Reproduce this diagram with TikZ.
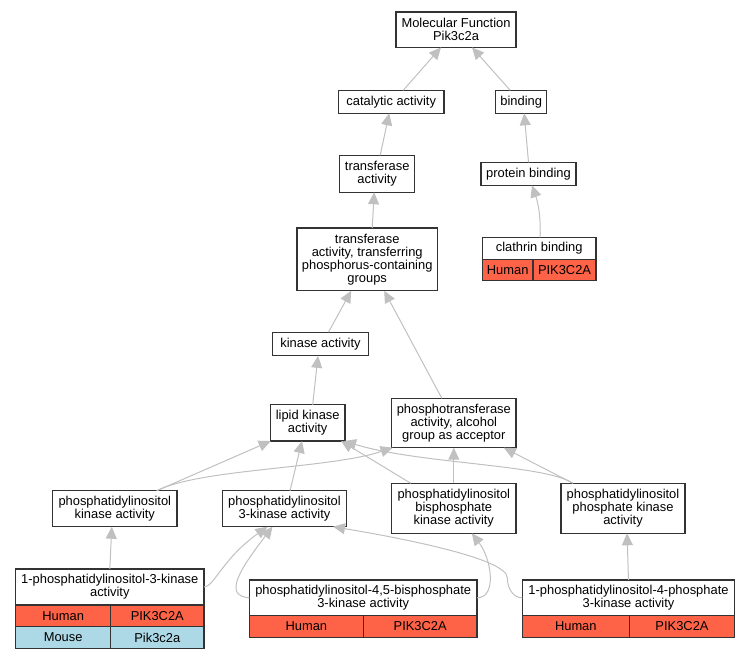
\documentclass[tikz,border=0pt]{standalone}
\usepackage{fontspec}
\setmainfont{Liberation Sans}
\usetikzlibrary{arrows.meta,positioning}
\definecolor{human}{HTML}{FF6347}
\definecolor{mouse}{HTML}{ADD8E6}
\definecolor{linkgray}{HTML}{C0C0C0}

\begin{document}
\begin{tikzpicture}[x=1pt,y=1pt,
  every node/.style={font=\fontsize{12.9}{13}\selectfont},
  term/.style={draw=black!80,line width=1.2pt,rectangle,align=center,inner sep=0pt,outer sep=0pt},
  hcell/.style={term,fill=human,minimum height=21.6pt},
  mcell/.style={term,fill=mouse,minimum height=21.6pt},
  link/.style={draw=linkgray,line width=1pt,-{Triangle[length=12pt,width=11pt]}}]
  \useasboundingbox (0,0) rectangle (751,659);

  \node[term,minimum width=120pt,minimum height=35.4pt]   (MF)  at (456,629.3)   {Molecular Function\\Pik3c2a};
  \node[term,minimum width=105.7pt,minimum height=23pt]   (CA)  at (391.2,557.2) {catalytic activity};
  \node[term,minimum width=51pt,minimum height=23pt]      (BI)  at (521.2,557.2) {binding};
  \node[term,minimum width=75pt,minimum height=37pt]      (TA)  at (377.2,485.2) {transferase\\activity};
  \node[term,minimum width=95pt,minimum height=23pt]      (PB)  at (528.5,485.2) {protein binding};
  \node[term,minimum width=140.3pt,minimum height=62.7pt] (TT)  at (367.2,399.6) {transferase\\activity, transferring\\phosphorus-containing\\groups};
  \node[term,minimum width=113.7pt,minimum height=22pt]   (CB)  at (539.2,410.7) {clathrin binding};
  \node[term,minimum width=95.6pt,minimum height=23.7pt]  (KA)  at (320.5,315)   {kinase activity};
  \node[term,minimum width=74.7pt,minimum height=36.3pt]  (LK)  at (307.7,236.1) {lipid kinase\\activity};
  \node[term,minimum width=124.3pt,minimum height=49.4pt] (PT)  at (453.8,236)   {phosphotransferase\\activity, alcohol\\group as acceptor};
  \node[term,minimum width=124.3pt,minimum height=36pt]   (PK)  at (114.8,150.3) {phosphatidylinositol\\kinase activity};
  \node[term,minimum width=124.4pt,minimum height=36pt]   (P3)  at (284.5,150.3) {phosphatidylinositol\\3-kinase activity};
  \node[term,minimum width=124.3pt,minimum height=50pt]   (PBK) at (453.8,150.7) {phosphatidylinositol\\bisphosphate\\kinase activity};
  \node[term,minimum width=124pt,minimum height=50pt]     (PPK) at (623,150.7)   {phosphatidylinositol\\phosphate kinase\\activity};
  \node[term,minimum width=188.3pt,minimum height=36pt]   (P3K) at (109.8,72)    {1-phosphatidylinositol-3-kinase\\activity};
  \node[term,minimum width=227.7pt,minimum height=35.7pt] (P45) at (363.2,61.2)  {phosphatidylinositol-4,5-bisphosphate\\3-kinase activity};
  \node[term,minimum width=212.4pt,minimum height=35.7pt] (P4P) at (628.5,61.2)  {1-phosphatidylinositol-4-phosphate\\3-kinase activity};

  \node[hcell,minimum width=50.7pt,anchor=north west] (CBh)  at (CB.south west)  {Human};
  \node[hcell,minimum width=63pt,right=0pt of CBh]    (CBg)                      {PIK3C2A};
  \node[hcell,minimum width=95pt,anchor=north west]   (P3Kh) at (P3K.south west) {Human};
  \node[hcell,minimum width=93.3pt,right=0pt of P3Kh] (P3Kg)                     {PIK3C2A};
  \node[mcell,minimum width=95pt,below=0pt of P3Kh]   (P3Km)                     {Mouse};
  \node[mcell,minimum width=93.3pt,right=0pt of P3Km] (P3Kn)                     {Pik3c2a};
  \node[hcell,minimum width=114pt,anchor=north west]  (P45h) at (P45.south west) {Human};
  \node[hcell,minimum width=113.7pt,right=0pt of P45h] (P45g)                    {PIK3C2A};
  \node[hcell,minimum width=107pt,anchor=north west]  (P4Ph) at (P4P.south west) {Human};
  \node[hcell,minimum width=105.4pt,right=0pt of P4Ph] (P4Pg)                    {PIK3C2A};

  \path ([xshift=12pt]CA.north) edge[link] ([xshift=-15pt]MF.south)
        ([xshift=-11pt]BI.north) edge[link] ([xshift=16pt]MF.south)
        ([xshift=3pt]TA.north) edge[link] ([xshift=-2pt]CA.south)
        (PB.north) edge[link] ([xshift=3pt]BI.south)
        ([xshift=1pt]CB.north) edge[link,bend right=10] ([xshift=3.5pt]PB.south)
        ([xshift=5pt]TT.north) edge[link] ([xshift=-3pt]TA.south)
        ([xshift=8pt]KA.north) edge[link] ([xshift=-16pt]TT.south)
        ([xshift=-12pt]PT.north) edge[link] ([xshift=17pt]TT.south)
        ([xshift=5pt]LK.north) edge[link] ([xshift=-2.5pt]KA.south)
        ([xshift=42pt]PK.north) edge[link] ([xshift=-37pt]LK.south)
        ([xshift=5.5pt]P3.north) edge[link] ([xshift=-5.7pt]LK.south)
        ([xshift=-43pt]PBK.north) edge[link] ([xshift=-4pt]LK.south east)
        (PBK.north) edge[link] (PT.south)
        ([xshift=-50pt]PPK.north) edge[link] ([xshift=50pt]PT.south)
        (P3K.north) edge[link] ([xshift=-3pt]PK.south)
        (P4P.north) edge[link] ([xshift=4pt]PPK.south);

  \draw[link] ([xshift=42pt]PK.north) .. controls +(43,22) and +(-63,-21) .. ([xshift=1pt]PT.south west);
  \draw[link] ([xshift=-50pt]PPK.north) .. controls +(-28,19) and +(76,-23) .. ([xshift=-1pt]LK.south east);
  \draw[link] (P3K.east) .. controls +(10,0) and +(-45,-32) .. ([xshift=-17pt]P3.south);
  \draw[link] (P45.west) .. controls +(-27,2) and +(-32,-42) .. ([xshift=-12pt]P3.south);
  \draw[link] (P45.east) .. controls +(20,0) and +(20,-26) .. ([xshift=18pt]PBK.south);
  \draw[link] (P4P.west) to[out=180,in=-90] ++(-15,20) .. controls +(0,20) and +(60,-10) .. ([xshift=48.5pt]P3.south);
\end{tikzpicture}
\end{document}
